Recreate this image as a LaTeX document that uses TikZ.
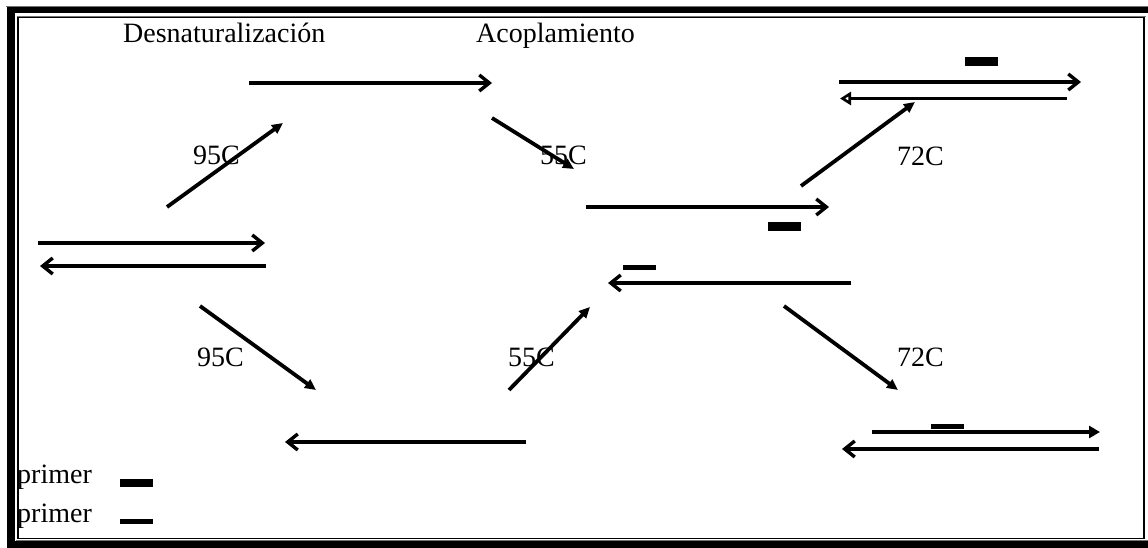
\documentclass[tikz,border=0pt]{standalone}
\usepackage{fontspec}
\setmainfont{Liberation Serif}
\usetikzlibrary{arrows.meta}
\tikzset{
  lbl/.style={anchor=base west,inner sep=0pt,font=\fontsize{28}{30}\selectfont},
  strand/.style={line width=3.4pt,-{Straight Barb[length=10pt,width=16pt,line width=3.4pt]}},
  strandtri/.style={line width=3.4pt,-{Triangle[length=11pt,width=12pt]}},
  strandopen/.style={line width=3.4pt,-{Triangle[open,length=11pt,width=13pt,line width=2.6pt]}},
  step arrow/.style={line width=3.8pt,-{Triangle[length=11pt,width=10pt]}},
  primerthick/.style={fill=black},
}
\begin{document}
\begin{tikzpicture}[x=1pt,y=-1pt]
\useasboundingbox (0,0) rectangle (1148,548);
% frame
\fill[black!55] (6,6) rectangle (1148,7);
\fill[black] (7,7) rectangle (1148,13.5);
\fill[black] (7,7) rectangle (15,548);
\fill[black] (7,541) rectangle (1148,548);
\draw[black!55,line width=0.8pt] (16.5,16) -- (1145.5,16);
\draw[black,line width=1.6pt] (17.8,17.5) rectangle (1144,538.5);
\draw[black!55,line width=0.8pt] (15.8,540) -- (1148,540);
% labels
\node[lbl] (den) at (123,43) {Desnaturalización};
\node[lbl] (aco) at (476,43) {Acoplamiento};
\node[lbl] (t1) at (193,165) {95C};
\node[lbl] (t2) at (540,165) {55C};
\node[lbl] (t3) at (897,166) {72C};
\node[lbl] (t4) at (197,366) {95C};
\node[lbl] (t5) at (508,366) {55C};
\node[lbl] (t6) at (897,366) {72C};
\node[lbl] (p1) at (17,483) {primer};
\node[lbl] (p2) at (17,522) {primer};
% coordinates
\coordinate (a1s) at (38,243);  \coordinate (a1e) at (265,243);
\coordinate (a2s) at (266,266); \coordinate (a2e) at (40,266);
\coordinate (b1s) at (167,207); \coordinate (b1e) at (283,123);
\coordinate (b2s) at (200,306); \coordinate (b2e) at (316,390);
\coordinate (c1s) at (249,83);  \coordinate (c1e) at (492,83);
\coordinate (c2s) at (526,442); \coordinate (c2e) at (285,442);
\coordinate (d1s) at (492,118); \coordinate (d1e) at (574,169);
\coordinate (d2s) at (509,390); \coordinate (d2e) at (590,307);
\coordinate (e1s) at (586,207); \coordinate (e1e) at (829,207);
\coordinate (e2s) at (851,283); \coordinate (e2e) at (608,283);
\coordinate (f1s) at (801,186); \coordinate (f1e) at (915,102);
\coordinate (f2s) at (784,306); \coordinate (f2e) at (898,390);
\coordinate (g1s) at (839,82);  \coordinate (g1e) at (1081,82);
\coordinate (g2s) at (1067,98.5); \coordinate (g2e) at (840,98.5);
\coordinate (h1s) at (872,432); \coordinate (h1e) at (1100,432);
\coordinate (h2s) at (1099,449); \coordinate (h2e) at (842,449);
% strands
\draw[strand] (a1s) -- (a1e);
\draw[strand] (a2s) -- (a2e);
\draw[strand] (c1s) -- (c1e);
\draw[strand] (c2s) -- (c2e);
\draw[strand] (e1s) -- (e1e);
\draw[strand] (e2s) -- (e2e);
\draw[strand] (g1s) -- (g1e);
\draw[strandopen] (g2s) -- (g2e);
\draw[strandtri] (h1s) -- (h1e);
\draw[strand] (h2s) -- (h2e);
% step arrows
\draw[step arrow] (b1s) -- (b1e);
\draw[step arrow] (b2s) -- (b2e);
\draw[step arrow] (d1s) -- (d1e);
\draw[step arrow] (d2s) -- (d2e);
\draw[step arrow] (f1s) -- (f1e);
\draw[step arrow] (f2s) -- (f2e);
% primers
\fill[primerthick] (120,479) rectangle (153,487);
\fill[primerthick] (120,519) rectangle (153,523.5);
\fill[primerthick] (768,222) rectangle (801,231);
\fill[primerthick] (623,265) rectangle (656,270);
\fill[primerthick] (965,57) rectangle (998,66);
\fill[primerthick] (931,424) rectangle (964,429);
\end{tikzpicture}
\end{document}
